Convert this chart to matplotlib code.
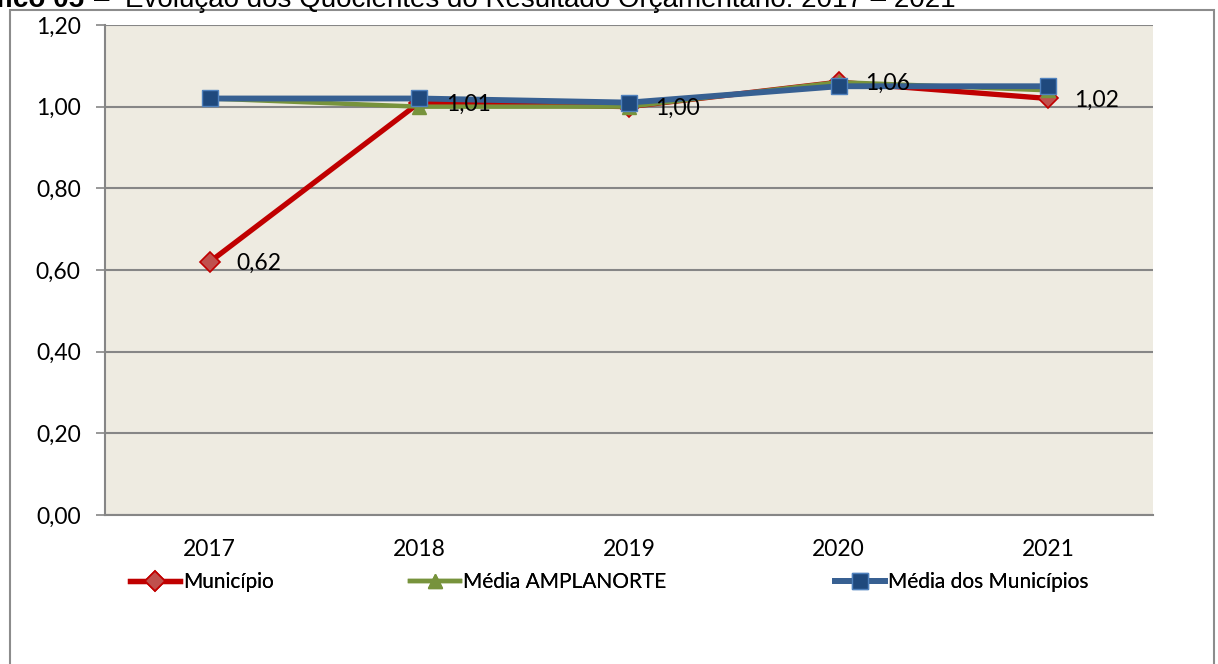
import matplotlib.pyplot as plt
from matplotlib.patches import Rectangle

plt.rcParams['font.family'] = ['Lato', 'DejaVu Sans']

anos = ['2017', '2018', '2019', '2020', '2021']
municipio = [0.62, 1.01, 1.00, 1.06, 1.02]
media_amplanorte = [1.02, 1.00, 1.00, 1.06, 1.04]
media_municipios = [1.02, 1.02, 1.01, 1.05, 1.05]
rotulos = ['0,62', '1,01', '1,00', '1,06', '1,02']
y_ticks = [0.0, 0.2, 0.4, 0.6, 0.8, 1.0, 1.2]

W, H = 1218, 664
fig = plt.figure(figsize=(W / 100, H / 100), dpi=100)

# moldura externa do gráfico
fig.patches.append(Rectangle((10 / W, -0.1), 1204 / W, 1.1 - 10 / H,
                             transform=fig.transFigure, fill=False,
                             edgecolor='#8c8c8c', linewidth=1.5))

# título (cortado no topo, como no original)
fig.text(84 / W, 1 - 7 / H, 'Gráfico 05', fontsize=20, fontweight='bold',
         family='Liberation Sans', va='baseline', ha='right')
fig.text(94 / W, 1 - 7 / H, '–  Evolução dos Quocientes do Resultado Orçamentário: 2017 – 2021',
         fontsize=20, family='Liberation Sans', va='baseline', ha='left')

ax = fig.add_axes([105 / W, 149 / H, 1048 / W, 490 / H])
ax.set_facecolor('#eeebe1')

x = range(len(anos))
l1, = ax.plot(x, municipio, color='#c00000', lw=3.8, marker='D', ms=10,
              mfc='#c0504d', mec='#c00000', mew=1.2, label='Município', zorder=3)
l2, = ax.plot(x, media_amplanorte, color='#77933c', lw=3.2, marker='^', ms=10,
              mfc='#77933c', mec='#77933c', label='Média AMPLANORTE', zorder=4)
l3, = ax.plot(x, media_municipios, color='#376092', lw=4.2, marker='s', ms=11,
              mfc='#1f497d', mec='#4f81bd', mew=1, label='Média dos Municípios', zorder=5)

for i, v in enumerate(municipio):
    ax.annotate(rotulos[i], (i, v), xytext=(19, -1), textcoords='offset points',
                fontsize=16.5, va='center', ha='left', zorder=6)

ax.set_xlim(-0.5, 4.5)
ax.set_ylim(0, 1.2)
ax.set_yticks(y_ticks)
ax.set_yticklabels([f'{t:.2f}'.replace('.', ',') for t in y_ticks], fontsize=16.5)
ax.set_xticks(list(x))
ax.set_xticklabels(anos, fontsize=16.5)
ax.tick_params(axis='y', length=6.5, color='#868686', width=1.2, pad=11)
ax.tick_params(axis='x', length=0, pad=17)
ax.grid(axis='y', color='#868686', lw=1.5)
ax.set_axisbelow(True)
for s in ['top', 'right']:
    ax.spines[s].set_visible(False)
for s in ['left', 'bottom']:
    ax.spines[s].set_color('#868686')
    ax.spines[s].set_linewidth(1.5)

# legenda: três entradas posicionadas como no original
for linha, x0 in [(l1, 130), (l2, 410), (l3, 835)]:
    leg = fig.legend(handles=[linha], loc='center left', bbox_to_anchor=(x0 / W, 82 / H),
                     frameon=False, fontsize=15, handlelength=2.4, handletextpad=0.15,
                     borderpad=0, borderaxespad=0)
    fig.add_artist(leg)

fig.savefig('out.png', dpi=100)
